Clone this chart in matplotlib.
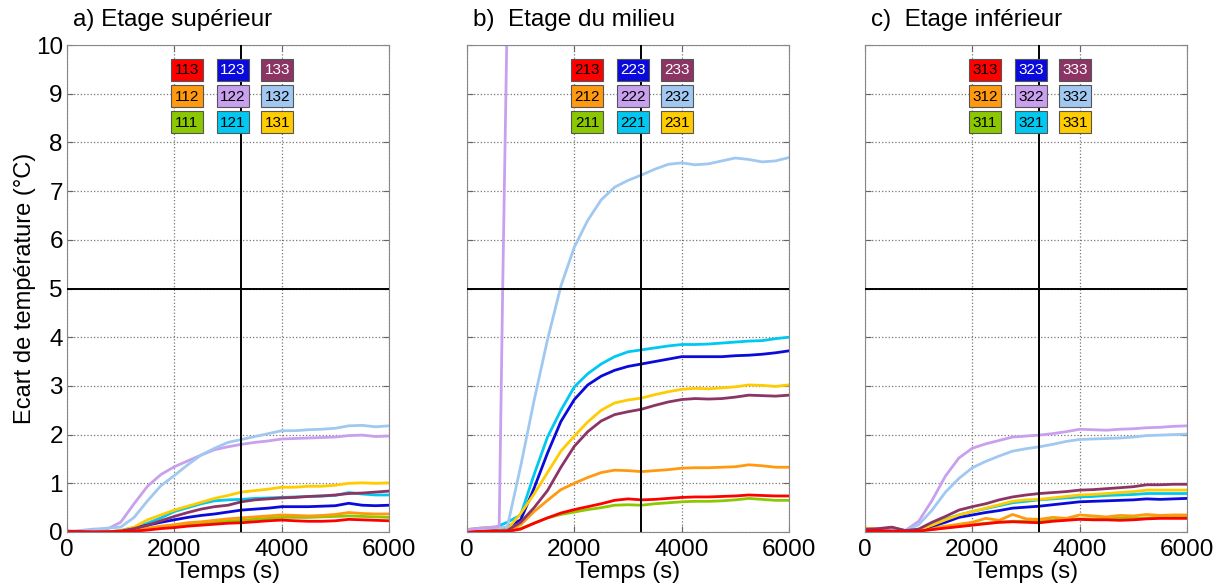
import numpy as np
import matplotlib.pyplot as plt
from matplotlib.patches import Rectangle

plt.rcParams['font.family'] = ['Liberation Sans', 'DejaVu Sans']

# temps commun (s)
temps = [0, 250, 500, 750, 1000, 1250, 1500, 1750, 2000, 2250, 2500, 2750, 3000,
         3250, 3500, 3750, 4000, 4250, 4500, 4750, 5000, 5250, 5500, 5750, 6000]

# a) Etage superieur
s113 = [0, 0, 0, 0, 0.01, 0.02, 0.04, 0.07, 0.09, 0.12, 0.14, 0.16, 0.18, 0.19, 0.21, 0.23, 0.245, 0.23, 0.22, 0.22, 0.23, 0.26, 0.25, 0.24, 0.23]
s112 = [0, 0, 0, 0, 0.01, 0.03, 0.08, 0.12, 0.15, 0.19, 0.21, 0.24, 0.27, 0.29, 0.31, 0.33, 0.35, 0.34, 0.33, 0.34, 0.36, 0.40, 0.38, 0.37, 0.37]
s111 = [0, 0, 0, 0, 0.01, 0.02, 0.05, 0.09, 0.12, 0.15, 0.17, 0.20, 0.22, 0.24, 0.26, 0.28, 0.30, 0.30, 0.30, 0.31, 0.32, 0.33, 0.32, 0.31, 0.30]
s123 = [0, 0, 0, 0, 0.02, 0.08, 0.14, 0.20, 0.25, 0.30, 0.34, 0.37, 0.41, 0.45, 0.47, 0.49, 0.52, 0.52, 0.52, 0.53, 0.54, 0.59, 0.55, 0.54, 0.55]
s122 = [0, 0.03, 0.06, 0.06, 0.20, 0.58, 0.94, 1.18, 1.34, 1.46, 1.58, 1.69, 1.75, 1.80, 1.84, 1.87, 1.91, 1.92, 1.93, 1.94, 1.95, 1.98, 1.99, 1.96, 1.97]
s121 = [0, 0, 0, 0, 0.03, 0.09, 0.18, 0.29, 0.42, 0.50, 0.58, 0.64, 0.66, 0.67, 0.69, 0.70, 0.71, 0.72, 0.73, 0.74, 0.75, 0.81, 0.78, 0.76, 0.76]
s133 = [0.02, 0.01, 0, 0, 0.02, 0.07, 0.14, 0.23, 0.32, 0.40, 0.47, 0.52, 0.55, 0.62, 0.66, 0.68, 0.70, 0.71, 0.73, 0.74, 0.76, 0.79, 0.80, 0.82, 0.84]
s132 = [0, 0.02, 0.05, 0.08, 0.10, 0.30, 0.64, 0.95, 1.16, 1.38, 1.58, 1.72, 1.84, 1.90, 1.96, 2.02, 2.08, 2.08, 2.10, 2.11, 2.13, 2.18, 2.19, 2.16, 2.18]
s131 = [0, 0, 0, 0, 0.03, 0.10, 0.25, 0.35, 0.45, 0.53, 0.61, 0.69, 0.75, 0.82, 0.85, 0.88, 0.92, 0.92, 0.94, 0.94, 0.96, 1.00, 1.01, 1.00, 1.01]

# b) Etage du milieu
s213 = [0, 0.01, 0.02, 0.01, 0.06, 0.18, 0.29, 0.39, 0.46, 0.52, 0.58, 0.65, 0.68, 0.66, 0.67, 0.69, 0.71, 0.72, 0.72, 0.73, 0.74, 0.76, 0.75, 0.74, 0.74]
s212 = [0.02, 0.03, 0.04, 0.03, 0.15, 0.42, 0.65, 0.87, 1.00, 1.12, 1.22, 1.27, 1.26, 1.24, 1.26, 1.28, 1.31, 1.32, 1.32, 1.33, 1.34, 1.38, 1.36, 1.33, 1.33]
s211 = [0.05, 0.08, 0.10, 0.05, 0.07, 0.18, 0.29, 0.36, 0.41, 0.46, 0.50, 0.55, 0.56, 0.55, 0.58, 0.60, 0.62, 0.63, 0.63, 0.64, 0.66, 0.69, 0.67, 0.65, 0.65]
s223 = [0, 0.01, 0.02, 0.10, 0.25, 0.90, 1.62, 2.27, 2.72, 3.02, 3.20, 3.32, 3.40, 3.45, 3.50, 3.55, 3.60, 3.60, 3.60, 3.60, 3.62, 3.63, 3.65, 3.68, 3.72]
t222 = [0, 250, 500, 600, 665, 740, 800]
s222 = [0.05, 0.08, 0.10, 0.12, 5.0, 10.0, 12.0]
s221 = [0.05, 0.06, 0.08, 0.20, 0.35, 1.18, 1.95, 2.50, 2.98, 3.25, 3.45, 3.60, 3.70, 3.74, 3.78, 3.82, 3.85, 3.85, 3.86, 3.88, 3.90, 3.92, 3.93, 3.97, 4.00]
s233 = [0, 0.01, 0.02, 0.03, 0.20, 0.50, 0.85, 1.33, 1.76, 2.06, 2.28, 2.41, 2.47, 2.52, 2.60, 2.67, 2.72, 2.74, 2.73, 2.74, 2.77, 2.81, 2.80, 2.79, 2.81]
s232 = [0.03, 0.05, 0.08, 0.10, 1.35, 2.70, 3.95, 5.05, 5.85, 6.40, 6.82, 7.08, 7.22, 7.33, 7.45, 7.55, 7.58, 7.54, 7.56, 7.62, 7.68, 7.65, 7.60, 7.62, 7.69]
s231 = [0, 0.01, 0.02, 0.05, 0.38, 0.78, 1.22, 1.66, 1.97, 2.26, 2.50, 2.65, 2.71, 2.75, 2.82, 2.88, 2.93, 2.95, 2.94, 2.96, 2.98, 3.02, 3.01, 2.99, 3.02]

# c) Etage inferieur
s313 = [0.02, 0.03, 0.02, 0.01, 0.02, 0.05, 0.08, 0.11, 0.14, 0.17, 0.20, 0.21, 0.20, 0.19, 0.22, 0.24, 0.26, 0.25, 0.25, 0.24, 0.25, 0.27, 0.28, 0.28, 0.28]
s312 = [0.08, 0.06, 0.09, 0.03, 0.04, 0.08, 0.12, 0.16, 0.20, 0.28, 0.24, 0.36, 0.27, 0.26, 0.30, 0.28, 0.35, 0.33, 0.31, 0.34, 0.33, 0.36, 0.34, 0.35, 0.35]
s311 = [0.01, 0.02, 0.02, 0.01, 0.02, 0.05, 0.09, 0.12, 0.15, 0.18, 0.20, 0.22, 0.22, 0.23, 0.24, 0.26, 0.27, 0.27, 0.28, 0.28, 0.28, 0.29, 0.30, 0.30, 0.30]
s323 = [0, 0.01, 0.02, 0.01, 0.03, 0.12, 0.20, 0.30, 0.35, 0.40, 0.44, 0.49, 0.51, 0.53, 0.56, 0.59, 0.62, 0.63, 0.64, 0.65, 0.66, 0.68, 0.67, 0.68, 0.69]
s322 = [0.05, 0.06, 0.05, 0.03, 0.22, 0.65, 1.15, 1.52, 1.72, 1.81, 1.88, 1.95, 1.97, 1.99, 2.02, 2.06, 2.11, 2.10, 2.09, 2.11, 2.12, 2.14, 2.15, 2.17, 2.18]
s321 = [0, 0.01, 0.02, 0.01, 0.04, 0.15, 0.26, 0.35, 0.42, 0.48, 0.54, 0.60, 0.63, 0.66, 0.68, 0.70, 0.72, 0.73, 0.75, 0.76, 0.77, 0.79, 0.79, 0.79, 0.79]
s333 = [0.05, 0.07, 0.10, 0.03, 0.06, 0.20, 0.32, 0.45, 0.52, 0.58, 0.66, 0.72, 0.76, 0.79, 0.81, 0.83, 0.86, 0.87, 0.89, 0.91, 0.93, 0.97, 0.97, 0.98, 0.98]
s332 = [0.02, 0.03, 0.04, 0.03, 0.15, 0.45, 0.82, 1.10, 1.32, 1.45, 1.56, 1.66, 1.71, 1.75, 1.80, 1.86, 1.90, 1.91, 1.92, 1.93, 1.95, 1.98, 1.99, 2.00, 2.01]
s331 = [0, 0.01, 0.02, 0.01, 0.04, 0.14, 0.25, 0.35, 0.42, 0.49, 0.56, 0.63, 0.66, 0.67, 0.70, 0.73, 0.76, 0.77, 0.79, 0.81, 0.83, 0.86, 0.86, 0.86, 0.86]

titres = ['a) Etage supérieur', 'b)  Etage du milieu', 'c)  Etage inférieur']
xticks = [0, 2000, 4000, 6000]
yticks = list(range(0, 11))

# couleur selon (colonne, ligne) du capteur
couleurs = {
    (1, 3): '#FF0000', (1, 2): '#FF9A10', (1, 1): '#8CC800',
    (2, 3): '#0A0ADC', (2, 2): '#C8A0EE', (2, 1): '#00C8F0',
    (3, 3): '#8C3464', (3, 2): '#A0C8F0', (3, 1): '#FFCC00',
}
texte_blanc = {(2, 3), (3, 3)}

series = [
    {'111': s111, '112': s112, '121': s121, '122': s122, '123': s123,
     '131': s131, '132': s132, '133': s133, '113': s113},
    {'211': s211, '212': s212, '221': s221, '223': s223, '231': s231,
     '232': s232, '233': s233, '213': s213, '222': s222},
    {'311': s311, '312': s312, '321': s321, '322': s322, '323': s323,
     '331': s331, '332': s332, '333': s333, '313': s313},
]

fig = plt.figure(figsize=(12.26, 5.88), dpi=100)
lefts = [67, 467, 865]
for p in range(3):
    ax = fig.add_axes([lefts[p] / 1226, 56 / 588, 322 / 1226, 487 / 588])
    for nom, vals in series[p].items():
        col, lig = int(nom[1]), int(nom[2])
        t = t222 if nom == '222' else temps
        ax.plot(t, vals, color=couleurs[(col, lig)], lw=2.0)

    ax.axvline(3250, color='black', lw=1.4, zorder=5)
    ax.axhline(5, color='black', lw=1.4, zorder=5)

    # legende en cases colorees
    for col in (1, 2, 3):
        for lig in (1, 2, 3):
            xc = [2235, 3090, 3920][col - 1]
            yc = [8.41, 8.95, 9.49][lig - 1]
            ax.add_patch(Rectangle((xc - 300, yc - 0.225), 600, 0.45,
                                   facecolor=couleurs[(col, lig)], edgecolor='#555555',
                                   lw=0.8, zorder=6))
            ax.text(xc, yc - 0.01, f'{p + 1}{col}{lig}', ha='center', va='center',
                    fontsize=11,
                    color='white' if (col, lig) in texte_blanc else 'black', zorder=7)

    ax.set_xlim(0, 6000)
    ax.set_ylim(0, 10)
    ax.set_xticks(xticks)
    ax.set_yticks(yticks)
    ax.grid(True, ls=':', color='#777777', lw=0.9)
    ax.tick_params(direction='in', length=4, top=True, right=True, labelsize=17.5,
                   color='#666666')
    ax.tick_params(axis='x', pad=5)
    ax.tick_params(axis='y', pad=3)
    for sp in ax.spines.values():
        sp.set_color('#888888')
    if p > 0:
        ax.set_yticklabels([])
    else:
        ax.set_ylabel('Ecart de température (°C)', fontsize=17, labelpad=0)
    ax.set_xlabel('Temps (s)', fontsize=17.3, labelpad=0)
    fig.text((lefts[p] + 6) / 1226, 1 - 20 / 588, titres[p], fontsize=17.5,
             ha='left', va='center')

fig.savefig('out.png', dpi=100)
